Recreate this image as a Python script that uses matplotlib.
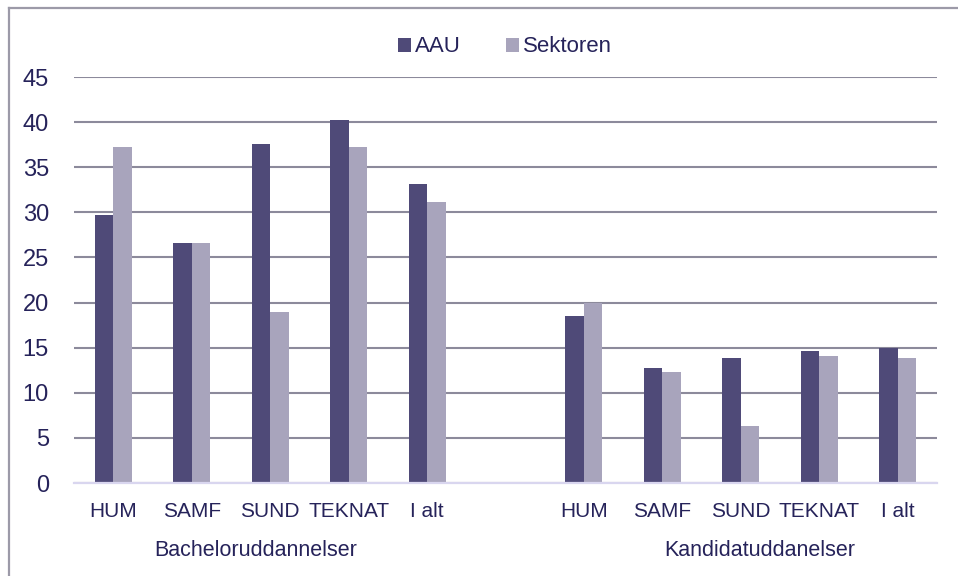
import numpy as np
import matplotlib
matplotlib.use("Agg")
from matplotlib import pyplot as plt
from matplotlib.lines import Line2D

plt.rcParams['font.family'] = ['Liberation Sans', 'DejaVu Sans']

categories = ['HUM', 'SAMF', 'SUND', 'TEKNAT', 'I alt']
groups = ['Bacheloruddannelser', 'Kandidatuddanelser']
aau_bach = [29.7, 26.6, 37.6, 40.2, 33.1]
sek_bach = [37.2, 26.6, 19.0, 37.2, 31.2]
aau_kand = [18.5, 12.8, 13.9, 14.6, 15.0]
sek_kand = [20.0, 12.3, 6.3, 14.1, 13.9]

dark = '#4f4a78'
light = '#a8a4bc'
txt = '#26235a'

fig = plt.figure(figsize=(9.58, 5.76), dpi=100)
ax = fig.add_axes([74/958, 1-483/576, (937-74)/958, (483-77)/576])

# 5 bachelor slots, one empty slot, 5 kandidat slots
x_b = np.arange(5)
x_k = np.arange(6, 11)
w = 0.236
ax.bar(x_b - w/2, aau_bach, w, color=dark, label='AAU', zorder=3)
ax.bar(x_b + w/2, sek_bach, w, color=light, label='Sektoren', zorder=3)
ax.bar(x_k - w/2, aau_kand, w, color=dark, zorder=3)
ax.bar(x_k + w/2, sek_kand, w, color=light, zorder=3)

ax.set_xlim(-0.5, 10.5)
ax.set_ylim(0, 45)
ax.set_yticks(np.arange(0, 46, 5))
ax.set_xticks(list(x_b) + list(x_k))
ax.set_xticklabels(categories + categories)
ax.tick_params(axis='both', length=0, colors=txt)
ax.tick_params(axis='y', labelsize=17, pad=18)
ax.tick_params(axis='x', labelsize=15, pad=14)
for s in ['top', 'right', 'left']:
    ax.spines[s].set_visible(False)
ax.spines['bottom'].set_color('#d9d6ef')
ax.spines['bottom'].set_linewidth(1.6)
ax.spines['bottom'].set_zorder(4)
ax.grid(axis='y', color='#8c8a9b', linewidth=1.5, zorder=0)
ax.set_axisbelow(True)

fig.text(256/958, 1-550/576, groups[0], ha='center', va='center', fontsize=15.5, color=txt)
fig.text(760/958, 1-550/576, groups[1], ha='center', va='center', fontsize=15.5, color=txt)

fig.legend(loc='center', bbox_to_anchor=(505/958, 1-47/576), ncol=2, frameon=False,
           fontsize=16, handlelength=0.6, handleheight=0.6, handletextpad=0.2,
           columnspacing=2.0, labelcolor=txt)

# outer chart frame (top and left edges visible)
fig.add_artist(Line2D([9/958, 1], [1-8/576, 1-8/576], color='#9c9aa8', linewidth=1.6))
fig.add_artist(Line2D([9/958, 9/958], [0, 1-8/576], color='#9c9aa8', linewidth=1.6))

fig.savefig('out.png', dpi=100)
